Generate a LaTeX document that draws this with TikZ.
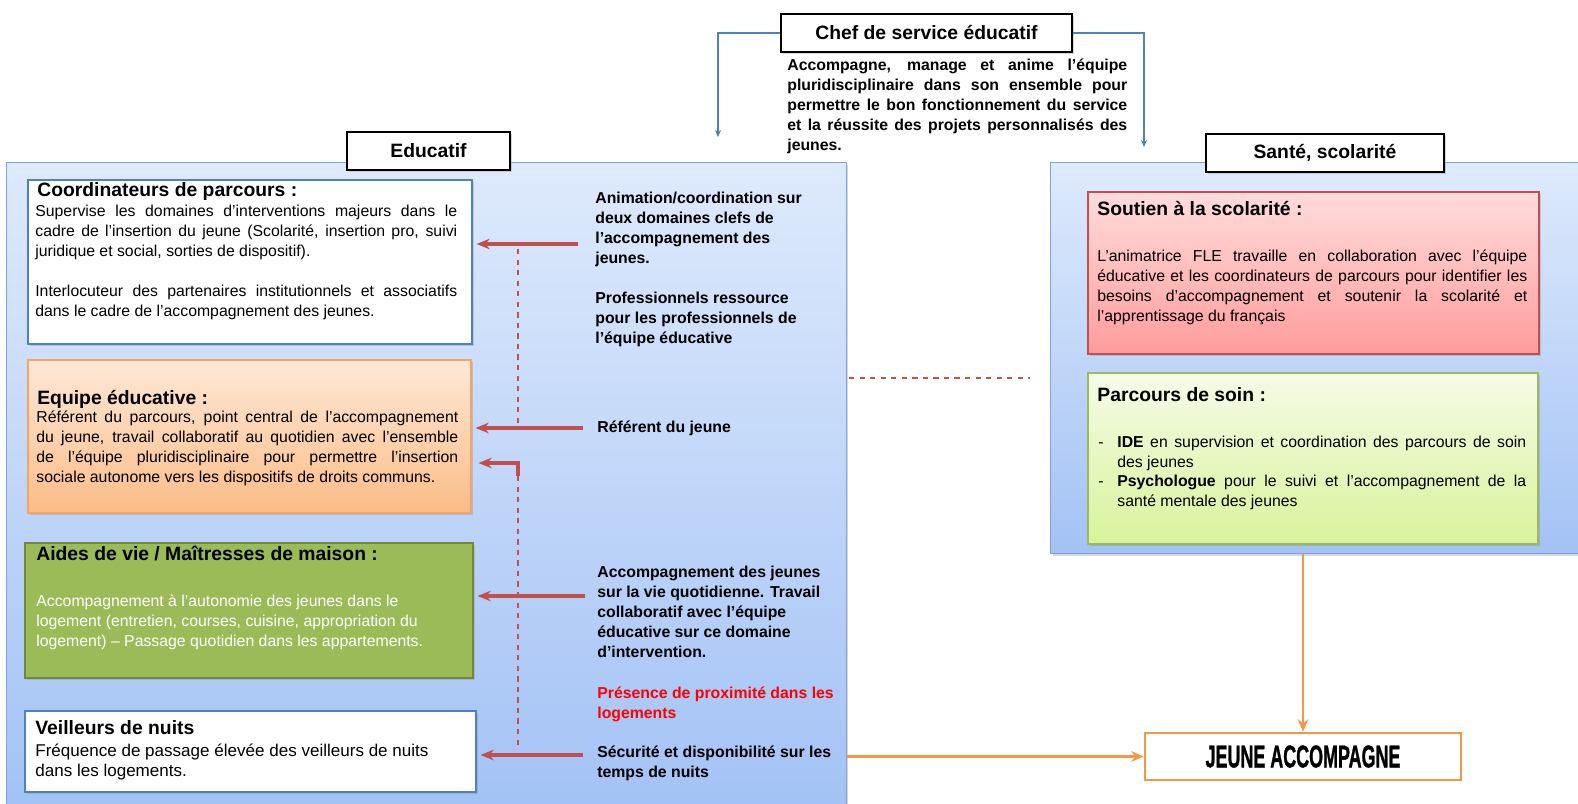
\documentclass[tikz,border=0pt]{standalone}
\usepackage{fontspec}
\usepackage{graphicx}
\setmainfont{Liberation Sans}
\newfontfamily\heavyfont{Liberation Sans Bold}[FakeBold=1.4]
\usetikzlibrary{arrows.meta,shadows,positioning}
\setlength{\parindent}{0pt}

\definecolor{panetop}{HTML}{DEEAFC}
\definecolor{panebot}{HTML}{A3C2F5}
\definecolor{paneline}{HTML}{7EA3D9}
\definecolor{cardblue}{HTML}{4F81BD}
\definecolor{peachtop}{HTML}{FDE8D6}
\definecolor{peachbot}{HTML}{FBBD87}
\definecolor{peachline}{HTML}{F5A465}
\definecolor{olive}{HTML}{9BBB59}
\definecolor{oliveline}{HTML}{71893F}
\definecolor{rosetop}{HTML}{FFDCDC}
\definecolor{rosebot}{HTML}{FF9C9C}
\definecolor{roseline}{HTML}{C0504D}
\definecolor{limetop}{HTML}{F6FBE6}
\definecolor{limebot}{HTML}{D8F39B}
\definecolor{limeline}{HTML}{9BBB59}
\definecolor{linkred}{HTML}{C0504D}
\definecolor{linkorange}{HTML}{F79646}

\tikzset{
  softshadow/.style={drop shadow={opacity=0.3, shadow xshift=1.2pt, shadow yshift=-1.2pt}},
  panel/.style={rectangle, inner sep=0pt, anchor=north west, draw=paneline, line width=0.6pt, top color=panetop, bottom color=panebot, softshadow},
  headbox/.style={rectangle, inner sep=0pt, draw=black, line width=1.3pt, fill=white, minimum height=0.76cm, font=\fontsize{11}{13}\selectfont\bfseries, softshadow},
  card/.style={rectangle, inner sep=0pt, anchor=north west, line width=1.2pt, softshadow},
  cardtitle/.style={anchor=base west, inner sep=0pt, font=\fontsize{11}{13}\selectfont\bfseries},
  cardtext/.style={anchor=north west, inner sep=0pt, align=justify, font=\fontsize{9}{11.4}\selectfont},
  roletext/.style={anchor=north west, inner sep=0pt, align=left, font=\fontsize{9}{11.4}\selectfont\bfseries},
  redlink/.style={draw=linkred, line width=1.8pt, shorten >=2pt, -{Stealth[length=7.5pt, width=6pt]}},
  reddash/.style={draw=linkred, line width=0.8pt, dashed},
  bluelink/.style={draw=cardblue, line width=0.6pt, -{Stealth[length=4pt, width=3.5pt]}},
  orangelink/.style={draw=linkorange, line width=1.6pt, -{Stealth[length=7pt, width=6pt]}}
}

\begin{document}
\begin{tikzpicture}[x=0.02cm, y=-0.02cm]
\useasboundingbox (0,0) rectangle (1578,804);

\node[panel, minimum width=16.8cm, minimum height=12.9cm] (educpanel) at (6,162) {};
\node[panel, minimum width=10.9cm, minimum height=7.82cm] (santepanel) at (1050,162) {};

\node[headbox, minimum width=5.82cm] (chef) at (926.5,33) {Chef de service éducatif};
\node[headbox, minimum width=3.26cm] (educ) at (428.5,151) {Educatif};
\node[headbox, minimum width=4.76cm] (sante) at (1325,153) {Santé, scolarité};

\node[roletext, align=justify, text width=6.8cm] (chefnote) at (787,56) {\strut Accompagne, manage et anime l’équipe\linebreak pluridisciplinaire dans son ensemble pour\linebreak permettre le bon fonctionnement du service\linebreak et la réussite des projets personnalisés des\linebreak jeunes.};

\node[card, draw=cardblue, fill=white, minimum width=8.88cm, minimum height=3.28cm] (coord) at (27,179) {};
\node[cardtitle] (coordtitle) at (37,196) {Coordinateurs de parcours :};
\node[cardtext, text width=8.44cm] (coordtext) at (35,202) {\strut Supervise les domaines d’interventions majeurs dans le\linebreak cadre de l’insertion du jeune (Scolarité, insertion pro, suivi\linebreak juridique et social, sorties de dispositif).\par\vspace{11.4pt}Interlocuteur des partenaires institutionnels et associatifs\linebreak dans le cadre de l’accompagnement des jeunes.};

\node[card, draw=peachline, top color=peachtop, bottom color=peachbot, minimum width=8.86cm, minimum height=3.06cm] (equipe) at (27,359) {};
\node[cardtitle] (equipetitle) at (37,404) {Equipe éducative :};
\node[cardtext, text width=8.44cm] (equipetext) at (36,408) {\strut Référent du parcours, point central de l’accompagnement\linebreak du jeune, travail collaboratif au quotidien avec l’ensemble\linebreak de l’équipe pluridisciplinaire pour permettre l’insertion\linebreak sociale autonome vers les dispositifs de droits communs.};

\node[card, draw=oliveline, fill=olive, minimum width=8.96cm, minimum height=2.7cm] (aides) at (24,542) {};
\node[cardtitle] (aidestitle) at (36,560) {Aides de vie / Maîtresses de maison :};
\node[cardtext, align=left, text=white] (aidestext) at (36,592) {\strut Accompagnement à l’autonomie des jeunes dans le\\ logement (entretien, courses, cuisine, appropriation du\\ logement) – Passage quotidien dans les appartements.};

\node[card, draw=cardblue, fill=white, minimum width=9.02cm, minimum height=1.62cm] (veill) at (24,710) {};
\node[cardtitle] (veilltitle) at (35,734) {Veilleurs de nuits};
\node[cardtext, align=left, font=\fontsize{9.7}{11.4}\selectfont] (veilltext) at (35,742) {\strut Fréquence de passage élevée des veilleurs de nuits\\ dans les logements.};

\node[roletext] (anim) at (595,189) {\strut Animation/coordination sur\\ deux domaines clefs de\\ l’accompagnement des\\ jeunes.\\[11.4pt] Professionnels ressource\\ pour les professionnels de\\ l’équipe éducative};
\node[roletext] (referent) at (597,418) {\strut Référent du jeune};
\node[roletext] (accomp) at (597,563) {\strut Accompagnement des jeunes\\ sur la vie quotidienne. Travail\\ collaboratif avec l’équipe\\ éducative sur ce domaine\\ d’intervention.};
\node[roletext, text=red] (proxi) at (597,684) {\strut Présence de proximité dans les\\ logements};
\node[roletext] (secu) at (597,743) {\strut Sécurité et disponibilité sur les\\ temps de nuits};

\node[card, draw=roseline, top color=rosetop, bottom color=rosebot, minimum width=9.02cm, minimum height=3.24cm] (soutien) at (1087,191) {};
\node[cardtitle] (soutientitle) at (1097,215) {Soutien à la scolarité :};
\node[cardtext, text width=8.6cm] (soutientext) at (1097,247) {\strut L’animatrice FLE travaille en collaboration avec l’équipe\linebreak éducative et les coordinateurs de parcours pour identifier les\linebreak besoins d’accompagnement et soutenir la scolarité et\linebreak l’apprentissage du français};

\node[card, draw=limeline, top color=limetop, bottom color=limebot, minimum width=9cm, minimum height=3.42cm] (soin) at (1087,372) {};
\node[cardtitle] (sointitle) at (1097,401) {Parcours de soin :};
\node[cardtext, align=left] (sointext) at (1098,433) {\strut\makebox[0.38cm][l]{-}\parbox[t]{8.18cm}{\strut\textbf{IDE} en supervision et coordination des parcours de soin\linebreak des jeunes}\\ \makebox[0.38cm][l]{-}\parbox[t]{8.18cm}{\strut\textbf{Psychologue} pour le suivi et l’accompagnement de la\linebreak santé mentale des jeunes}};

\node[rectangle, draw=linkorange, line width=1.6pt, fill=white, minimum width=6.32cm, minimum height=0.94cm, inner sep=0pt] (jeune) at (1303,756.5) {\heavyfont\fontsize{17}{20}\selectfont\scalebox{0.6}[1.05]{JEUNE ACCOMPAGNE}};

\coordinate (educin) at (718,137);
\coordinate (santein) at (1144,147);
\draw[bluelink] (chef.west) -| (educin);
\draw[bluelink] (chef.east) -| (santein);

\coordinate (animw) at (578,244);
\coordinate (refw) at (583,428);
\coordinate (accompw) at (585,596);
\coordinate (secuw) at (583,755);
\coordinate (elbow) at (518,476);
\coordinate (equipein) at (475,463);
\coordinate (dashtop) at (518,249);
\coordinate (dashbot) at (518,747);
\draw[reddash] (dashtop) -- (dashtop |- refw);
\draw[reddash] (elbow) -- (dashbot);
\draw[redlink] (animw) -- (coord.east |- animw);
\draw[redlink] (refw) -- (equipe.east |- refw);
\draw[redlink] (elbow) |- (equipein);
\draw[redlink] (accompw) -- (aides.east |- accompw);
\draw[redlink] (secuw) -- (veill.east |- secuw);

\coordinate (linkl) at (849,378);
\coordinate (linkr) at (1030,378);
\draw[reddash] (linkl) -- (linkr);

\draw[orangelink] (jeune.north |- santepanel.south) -- (jeune.north);
\draw[orangelink] (educpanel.east |- jeune.west) -- (jeune.west);
\end{tikzpicture}
\end{document}
